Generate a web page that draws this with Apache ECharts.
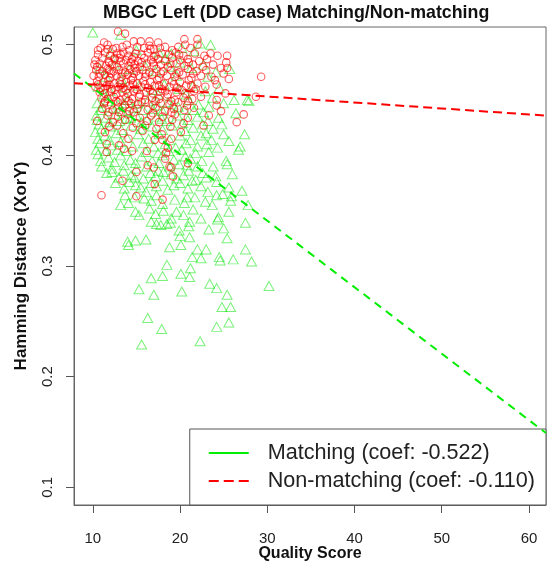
<!DOCTYPE html>
<html>
<head>
<meta charset="utf-8">
<title>MBGC Left (DD case) Matching/Non-matching</title>
<script src="https://cdn.jsdelivr.net/npm/echarts@6.0.0/dist/echarts.min.js"></script>
<style>
  html, body { margin: 0; padding: 0; background: #fff; }
  #chart { width: 551px; height: 569px; }
</style>
</head>
<body>
<div id="chart"></div>
<script>
const FONT = 'Liberation Sans, Arial, sans-serif'

const xTicks = [10, 20, 30, 40, 50, 60]
const yTicks = [0.1, 0.2, 0.3, 0.4, 0.5]
const legendNames = ['Matching (coef: -0.522)', 'Non-matching (coef: -0.110)']

// fitted lines, end points read at the plot edges
const fitX = [7.85, 61.95]
const matchingFitY = [0.4740, 0.1490]
const nonMatchingFitY = [0.4652, 0.4359]

// Matching (green triangles), [quality score, hamming distance]
const matchingPts = [
  [10.0,0.511],[13.2,0.509],[22.3,0.501],[23.5,0.500],[20.2,0.497],[21.6,0.494],[19.0,0.492],[17.6,0.493],[18.3,0.488],[12.0,0.493],[15.0,0.495],
  [10.8,0.479],[12.5,0.482],[14.2,0.478],[16.0,0.481],[17.2,0.476],[18.8,0.480],[20.0,0.484],[21.3,0.479],[22.7,0.482],[24.1,0.475],[25.7,0.478],[23.2,0.471],[19.6,0.472],[11.5,0.471],[13.3,0.469],
  [10.6,0.462],[12.0,0.458],[13.7,0.461],[15.3,0.463],[16.8,0.459],[18.2,0.464],[19.9,0.460],[21.5,0.463],[22.9,0.458],[24.5,0.461],[17.5,0.455],[20.7,0.455],[23.7,0.452],[11.3,0.455],
  [10.5,0.447],[11.7,0.449],[12.9,0.446],[14.0,0.450],[15.1,0.447],[16.3,0.449],[17.4,0.445],[18.6,0.448],[19.8,0.444],[21.0,0.450],[22.1,0.446],[23.3,0.444],[26.2,0.450],[27.7,0.450],[27.9,0.449],[25.0,0.447],[10.9,0.441],[13.4,0.440],[15.8,0.441],[18.0,0.440],[20.5,0.441],[22.7,0.439],
  [11.0,0.444],[12.3,0.443],[13.6,0.447],[14.7,0.443],[16.9,0.442],[19.2,0.446],[21.6,0.441],
  [10.4,0.436],[11.5,0.434],[12.6,0.437],[13.8,0.433],[15.0,0.436],[16.2,0.432],[17.3,0.435],[18.5,0.431],[19.7,0.436],[20.9,0.432],[22.0,0.435],[23.2,0.431],[24.4,0.434],[26.4,0.438],[24.8,0.428],[10.7,0.428],[12.0,0.426],[14.4,0.427],[16.8,0.426],[19.1,0.427],[21.5,0.425],[23.8,0.424],
  [10.5,0.432],[11.9,0.430],[13.1,0.431],[14.3,0.434],[15.6,0.430],[17.9,0.433],[20.3,0.429],[22.6,0.428],
  [11.0,0.424],[13.3,0.423],[15.5,0.424],[18.0,0.423],[20.6,0.422],[23.0,0.420],
  [10.3,0.421],[11.4,0.418],[12.7,0.420],[13.9,0.416],[15.2,0.419],[16.4,0.415],[17.6,0.419],[18.8,0.414],[20.0,0.418],[21.2,0.414],[22.4,0.418],[23.6,0.414],[25.0,0.419],[27.4,0.419],[10.8,0.411],[12.1,0.409],[14.6,0.408],[17.0,0.408],[19.5,0.407],[22.0,0.408],[24.3,0.407],[26.9,0.408],[26.7,0.405],
  [10.6,0.415],[11.9,0.414],[13.2,0.412],[15.8,0.411],[18.3,0.410],[20.7,0.411],[23.1,0.410],[25.6,0.413],
  [10.4,0.405],[11.5,0.404],[12.8,0.405],[13.9,0.404],[16.1,0.403],[17.5,0.402],[18.7,0.404],[20.2,0.405],[21.8,0.402],[23.3,0.403],
  [10.6,0.401],[11.8,0.398],[13.2,0.400],[14.3,0.396],[15.6,0.399],[16.8,0.395],[18.0,0.400],[19.3,0.396],[20.6,0.399],[21.2,0.397],[20.8,0.391],[22.5,0.395],[23.8,0.390],[25.3,0.395],[25.4,0.392],[11.0,0.390],[12.2,0.388],[13.6,0.391],[15.0,0.388],[16.2,0.390],[17.5,0.386],[18.8,0.390],
  [10.9,0.395],[12.5,0.394],[14.9,0.393],[17.6,0.393],[19.9,0.392],[22.0,0.390],
  [12.2,0.385],[13.0,0.380],[14.4,0.382],[15.8,0.379],[17.2,0.381],[18.1,0.385],[19.6,0.379],[20.4,0.382],[21.8,0.378],[23.0,0.380],[24.1,0.381],[24.2,0.376],[26.0,0.383],
  [11.6,0.384],[13.5,0.386],[14.8,0.380],[16.6,0.384],[19.0,0.383],[21.0,0.386],[22.6,0.384],
  [13.6,0.370],[14.9,0.373],[16.1,0.367],[17.3,0.372],[18.6,0.369],[19.3,0.373],[20.9,0.370],[22.4,0.372],[25.6,0.371],[27.1,0.368],[24.9,0.365],[25.9,0.363],
  [12.6,0.375],[14.2,0.376],[15.5,0.371],[16.7,0.375],[18.0,0.377],[20.0,0.375],[21.4,0.377],[23.2,0.367],
  [13.2,0.355],[14.1,0.357],[14.8,0.362],[16.7,0.359],[17.3,0.364],[18.0,0.356],[19.4,0.360],[20.5,0.357],[21.7,0.362],[22.9,0.358],[24.2,0.364],[25.8,0.359],[23.7,0.355],[27.8,0.355],
  [13.7,0.364],[15.9,0.361],[16.5,0.352],[17.2,0.347],[19.0,0.343],[20.8,0.362],
  [18.1,0.350],[14.9,0.349],[15.3,0.346],[19.6,0.349],[20.4,0.346],[21.5,0.351],
  [16.7,0.340],[17.3,0.338],[17.8,0.337],[18.5,0.338],[18.9,0.339],[21.1,0.340],[22.4,0.343],[24.3,0.342],[24.4,0.344],[25.6,0.349],[27.5,0.339],[25.0,0.334],[21.0,0.336],[23.3,0.333],[19.9,0.332],
  [14.9,0.323],[16.1,0.324],[14.0,0.322],[25.4,0.325],[20.0,0.327],[21.1,0.326],[27.5,0.315],[14.1,0.319],[18.8,0.317],[20.1,0.319],[22.0,0.315],[23.0,0.315],[22.4,0.307],
  [26.1,0.306],[24.6,0.305],[24.5,0.308],[21.4,0.308],[28.2,0.304],[18.5,0.301],[21.2,0.298],[16.7,0.289],[18.0,0.291],[20.1,0.293],[21.1,0.290],[23.4,0.284],[24.2,0.280],[30.2,0.282],[15.3,0.279],[17.0,0.274],[20.2,0.277],[25.4,0.274],
  [24.8,0.263],[25.8,0.263],[16.3,0.253],[24.2,0.245],[25.6,0.249],[17.9,0.243],[22.3,0.232],[15.6,0.229]
]

// Non-matching (red circles)
const nonMatchingPts = [
  [12.9,0.512],[13.7,0.510],[11.3,0.502],[11.7,0.500],[14.7,0.503],[15.5,0.503],[16.5,0.503],[16.5,0.499],[17.5,0.502],[20.5,0.505],[20.6,0.500],[22.0,0.505],[22.0,0.500],
  [23.5,0.492],[24.3,0.490],[25.4,0.490],[25.3,0.484],[25.4,0.479],[24.7,0.479],[25.0,0.474],[25.6,0.469],[24.0,0.468],[24.2,0.464],[29.3,0.471],[25.2,0.456],[28.7,0.453],
  [24.2,0.450],[24.2,0.445],[24.7,0.440],[23.3,0.436],[27.3,0.437],[26.5,0.430],[22.7,0.427],
  [10.9,0.497],[12.3,0.496],[13.4,0.498],[14.2,0.495],[15.9,0.497],[17.0,0.496],[18.3,0.498],[19.1,0.495],[21.2,0.497],
  [10.6,0.495],[11.7,0.496],[12.7,0.497],[13.9,0.500],[15.1,0.498],[16.6,0.496],[17.7,0.497],[19.8,0.498],
  [10.6,0.491],[11.4,0.493],[12.0,0.490],[12.8,0.492],[13.5,0.493],[14.1,0.490],[14.9,0.492],[15.6,0.491],[16.3,0.493],[17.2,0.490],[17.9,0.492],[18.7,0.491],[19.5,0.493],[20.4,0.490],[21.7,0.492],[22.8,0.490],
  [12.5,0.488],[14.7,0.489],[17.0,0.489],[19.9,0.491],[13.2,0.491],
  [10.3,0.486],[11.1,0.488],[11.8,0.485],[12.5,0.487],[13.1,0.488],[13.8,0.486],[14.5,0.487],[15.2,0.485],[15.9,0.488],[16.7,0.486],[17.5,0.487],[18.3,0.485],[19.1,0.488],[20.0,0.486],[20.9,0.487],[22.2,0.485],[23.1,0.487],
  [10.5,0.480],[11.9,0.484],[13.2,0.485],[14.4,0.484],[15.6,0.484],[16.9,0.484],[18.9,0.483],[21.0,0.484],
  [10.2,0.482],[10.8,0.483],[11.5,0.481],[12.2,0.482],[12.8,0.480],[13.5,0.483],[14.1,0.481],[14.8,0.482],[15.4,0.480],[16.2,0.483],[17.0,0.481],[17.8,0.482],[18.6,0.480],[19.6,0.483],[20.5,0.481],[21.5,0.482],[22.6,0.480],[23.8,0.482],
  [10.4,0.477],[11.1,0.476],[11.7,0.478],[12.4,0.476],[13.0,0.477],[13.7,0.475],[14.3,0.478],[15.0,0.476],[15.7,0.477],[16.5,0.475],[17.3,0.478],[18.1,0.476],[19.0,0.477],[19.9,0.475],[20.9,0.478],[21.9,0.476],[23.0,0.477],
  [11.9,0.477],[14.8,0.479],[10.8,0.474],[12.1,0.474],[13.4,0.474],[14.7,0.474],[16.1,0.474],[17.8,0.474],[19.6,0.474],[21.5,0.474],
  [10.1,0.472],[10.7,0.471],[11.4,0.473],[12.0,0.470],[12.7,0.472],[13.3,0.471],[14.0,0.473],[14.6,0.470],[15.3,0.472],[16.0,0.471],[16.8,0.473],[17.6,0.470],[18.5,0.472],[19.4,0.471],[20.3,0.473],[21.3,0.470],[22.4,0.472],[23.6,0.471],
  [10.5,0.467],[11.2,0.466],[11.8,0.468],[12.5,0.465],[13.1,0.467],[13.8,0.466],[14.4,0.468],[15.1,0.465],[15.8,0.467],[16.6,0.466],[17.4,0.468],[18.2,0.465],[19.1,0.467],[20.0,0.466],[21.0,0.468],[22.0,0.465],
  [10.6,0.464],[11.9,0.464],[13.2,0.464],[14.6,0.465],[16.0,0.464],[17.6,0.463],[19.3,0.464],[21.3,0.463],
  [10.3,0.462],[10.9,0.461],[11.6,0.463],[12.2,0.460],[12.9,0.462],[13.5,0.461],[14.2,0.463],[14.9,0.460],[15.6,0.462],[16.3,0.461],[17.1,0.463],[17.9,0.460],[18.8,0.462],[19.7,0.461],[20.7,0.463],[21.8,0.460],[22.9,0.462],
  [11.2,0.459],[12.5,0.459],[13.8,0.459],[15.1,0.459],[16.6,0.459],[18.3,0.458],[20.2,0.459],
  [10.8,0.457],[11.4,0.456],[12.1,0.458],[12.7,0.455],[13.4,0.457],[14.0,0.456],[14.7,0.458],[15.4,0.455],[16.1,0.457],[16.9,0.456],[17.7,0.458],[18.6,0.455],[19.6,0.457],[20.6,0.456],[21.6,0.458],
  [11.0,0.452],[11.7,0.451],[12.4,0.453],[13.1,0.450],[13.8,0.452],[14.5,0.451],[15.3,0.453],[16.0,0.450],[16.8,0.452],[17.6,0.451],[18.5,0.453],[19.4,0.450],[20.4,0.452],[21.4,0.451],[22.4,0.453],
  [11.4,0.449],[12.7,0.449],[14.1,0.449],[15.6,0.448],[17.2,0.449],[19.0,0.449],[20.9,0.449],
  [11.3,0.447],[12.1,0.446],[12.9,0.448],[13.7,0.445],[14.4,0.447],[15.2,0.446],[16.0,0.448],[16.9,0.445],[17.8,0.447],[18.8,0.446],[19.8,0.448],[20.8,0.445],
  [11.1,0.442],[12.3,0.441],[13.4,0.443],[14.2,0.440],[15.1,0.442],[16.3,0.441],[17.2,0.443],[18.3,0.440],[19.3,0.442],[20.5,0.441],[21.6,0.443],
  [11.8,0.439],[13.0,0.439],[14.7,0.439],[16.9,0.438],[19.0,0.439],
  [11.7,0.436],[12.9,0.435],[14.0,0.437],[15.4,0.434],[16.7,0.436],[18.0,0.435],[19.4,0.437],[20.9,0.434],
  [10.5,0.431],[12.3,0.430],[12.8,0.427],[13.7,0.432],[15.0,0.429],[16.2,0.431],[17.6,0.430],[19.1,0.432],[20.4,0.429],
  [11.9,0.426],[14.6,0.425],[16.0,0.427],[17.3,0.424],[18.9,0.426],
  [11.4,0.421],[13.5,0.420],[15.7,0.422],[17.9,0.419],[20.1,0.421],
  [14.1,0.415],[17.1,0.414],[18.0,0.414],[19.0,0.415],[11.6,0.410],[13.0,0.409],[18.6,0.407],[13.6,0.406],[14.5,0.404],[16.2,0.404],[11.6,0.403],[18.4,0.402],
  [18.3,0.397],[16.3,0.391],[17.0,0.389],[18.8,0.390],[19.0,0.389],[20.9,0.393],[15.0,0.385],[19.2,0.381],[13.4,0.377],[17.1,0.374],[11.0,0.364],[15.0,0.363],[18.0,0.360]
]

const chart = echarts.init(document.getElementById('chart'))

const hiddenSymbol = { color: 'rgba(0,0,0,0)', borderWidth: 0 }

const option = {
  animation: false,
  backgroundColor: '#fff',
  title: {
    text: 'MBGC Left (DD case) Matching/Non-matching',
    left: 103,
    top: 4,
    padding: 0,
    textStyle: { fontSize: 17.8, fontWeight: 'bold', color: '#111', fontFamily: FONT }
  },
  grid: {
    left: 74, top: 27, right: 5, bottom: 64,
    outerBoundsMode: 'none',
    show: true, borderColor: '#666', borderWidth: 1, backgroundColor: 'transparent'
  },
  legend: {
    data: [
      { name: legendNames[0], itemStyle: hiddenSymbol, lineStyle: { type: 'solid', color: '#00ee00', width: 2 } },
      { name: legendNames[1], itemStyle: hiddenSymbol, lineStyle: { type: [10, 5], color: '#ff0000', width: 2 } }
    ],
    orient: 'vertical',
    right: 5,
    bottom: 64,
    itemWidth: 40,
    itemHeight: 21,
    itemGap: 6,
    padding: [13, 11, 13, 18],
    backgroundColor: '#fff',
    borderColor: '#555',
    borderWidth: 1,
    borderRadius: 0,
    selectedMode: false,
    textStyle: { fontSize: 21.6, color: '#222', fontFamily: FONT, padding: [0, 0, 0, 14] }
  },
  xAxis: {
    type: 'value',
    min: 7.85,
    max: 61.95,
    name: 'Quality Score',
    nameLocation: 'middle',
    nameGap: 41,
    nameMoveOverlap: false,
    nameTextStyle: { fontSize: 16, fontWeight: 'bold', color: '#111', fontFamily: FONT },
    axisLine: { show: true, lineStyle: { color: '#666', width: 1 } },
    splitLine: { show: false },
    axisTick: { show: true, length: 8, customValues: xTicks, lineStyle: { color: '#555' } },
    axisLabel: { customValues: xTicks, margin: 26, fontSize: 15, color: '#222', fontFamily: FONT }
  },
  yAxis: {
    type: 'value',
    min: 0.084,
    max: 0.516,
    name: 'Hamming Distance (XorY)',
    nameLocation: 'middle',
    nameGap: 44,
    nameMoveOverlap: false,
    nameTextStyle: { fontSize: 17, fontWeight: 'bold', color: '#111', fontFamily: FONT },
    axisLine: { show: true, lineStyle: { color: '#666', width: 1 } },
    splitLine: { show: false },
    axisTick: { show: true, length: 8, customValues: yTicks, lineStyle: { color: '#555' } },
    axisLabel: {
      customValues: yTicks, rotate: 90, margin: 19, fontSize: 15, color: '#222', fontFamily: FONT,
      formatter: v => String(v)
    }
  },
  series: [
    {
      name: 'Matching',
      type: 'scatter',
      silent: true,
      symbol: 'triangle',
      symbolSize: [10, 9],
      itemStyle: { color: 'rgba(0,0,0,0)', borderColor: 'rgba(0,230,0,0.65)', borderWidth: 1 },
      data: matchingPts,
      z: 2
    },
    {
      name: 'Non-matching',
      type: 'scatter',
      silent: true,
      symbol: 'circle',
      symbolSize: 7.5,
      itemStyle: { color: 'rgba(0,0,0,0)', borderColor: 'rgba(255,0,0,0.8)', borderWidth: 1.1 },
      data: nonMatchingPts,
      z: 3
    },
    {
      name: legendNames[0],
      type: 'line',
      silent: true,
      symbol: 'none',
      data: fitX.map((x, i) => [x, matchingFitY[i]]),
      itemStyle: { color: '#00ee00' },
      lineStyle: { color: '#00ee00', width: 2, type: [8, 6] },
      z: 4
    },
    {
      name: legendNames[1],
      type: 'line',
      silent: true,
      symbol: 'none',
      data: fitX.map((x, i) => [x, nonMatchingFitY[i]]),
      itemStyle: { color: '#ff0000' },
      lineStyle: { color: '#ff0000', width: 2, type: [9, 5] },
      z: 4
    }
  ]
}

chart.setOption(option)
</script>
</body>
</html>
